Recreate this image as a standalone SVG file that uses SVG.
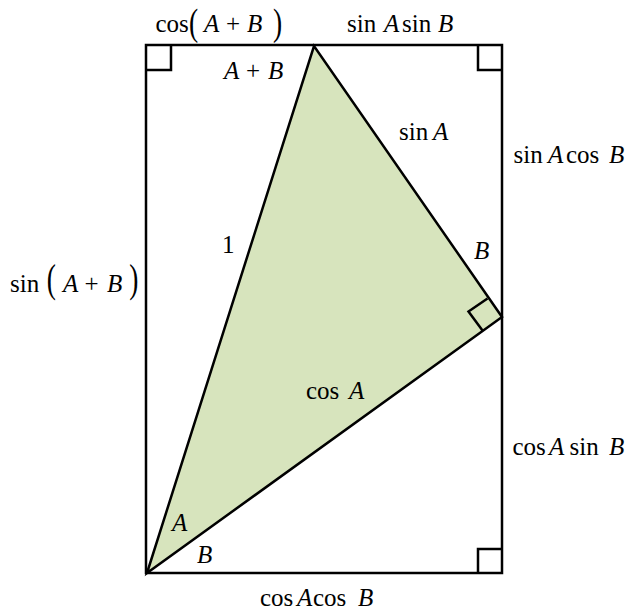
<svg xmlns="http://www.w3.org/2000/svg" width="641" height="612" viewBox="0 0 641 612">
<style>
.ln{fill:none;stroke:#000;stroke-width:2.5;stroke-linejoin:miter}
text{font-family:"Liberation Serif","Times New Roman",serif;font-size:25px;fill:#000}
.i{font-style:italic}
</style>
<rect width="641" height="612" fill="#fff"/>
<g id="triangle">
<polygon points="147,573 314,46 502,317" fill="#d7e4bd" stroke="#000" stroke-width="2.5" stroke-linejoin="miter"/>
<polyline class="ln" points="487.5,298.5 468.5,311.5 482.5,330.5"/>
</g>
<g id="rectangle">
<rect class="ln" x="146" y="45" width="356" height="528"/>
<polyline class="ln" points="146,70 171,70 171,45"/>
<polyline class="ln" points="502,70 478,70 478,45"/>
<polyline class="ln" points="502,549 478,549 478,573"/>
</g>
<g id="labels">
<text y="32"><tspan x="155.5">cos</tspan><tspan class="i" x="204">A</tspan><tspan x="226">+</tspan><tspan class="i" x="247">B</tspan></text>
<text transform="translate(189,35) scale(1.1,1.5)">(</text>
<text transform="translate(273,35) scale(1.1,1.5)">)</text>
<text y="32"><tspan x="347">sin</tspan><tspan class="i" x="384">A</tspan><tspan x="402">sin</tspan><tspan class="i" x="438">B</tspan></text>
<text y="79"><tspan class="i" x="224">A</tspan><tspan x="246">+</tspan><tspan class="i" x="268">B</tspan></text>
<text y="140"><tspan x="399">sin</tspan><tspan class="i" x="433">A</tspan></text>
<text y="163"><tspan x="513.5">sin</tspan><tspan class="i" x="548">A</tspan><tspan x="566">cos</tspan><tspan class="i" x="609">B</tspan></text>
<text x="222" y="253">1</text>
<text x="474" y="259" class="i">B</text>
<text y="292"><tspan x="10">sin</tspan><tspan class="i" x="63">A</tspan><tspan x="84.5">+</tspan><tspan class="i" x="107">B</tspan></text>
<text transform="translate(46.8,292) scale(1.1,1.6)">(</text>
<text transform="translate(129.3,292) scale(1.1,1.6)">)</text>
<text y="399"><tspan x="306">cos</tspan><tspan class="i" x="349">A</tspan></text>
<text y="455"><tspan x="512.5">cos</tspan><tspan class="i" x="549">A</tspan><tspan x="569.5">sin</tspan><tspan class="i" x="609">B</tspan></text>
<text x="172" y="531" class="i">A</text>
<text x="197" y="563" class="i">B</text>
<text y="606"><tspan x="260">cos</tspan><tspan class="i" x="297">A</tspan><tspan x="313">cos</tspan><tspan class="i" x="358">B</tspan></text>
</g>
</svg>
